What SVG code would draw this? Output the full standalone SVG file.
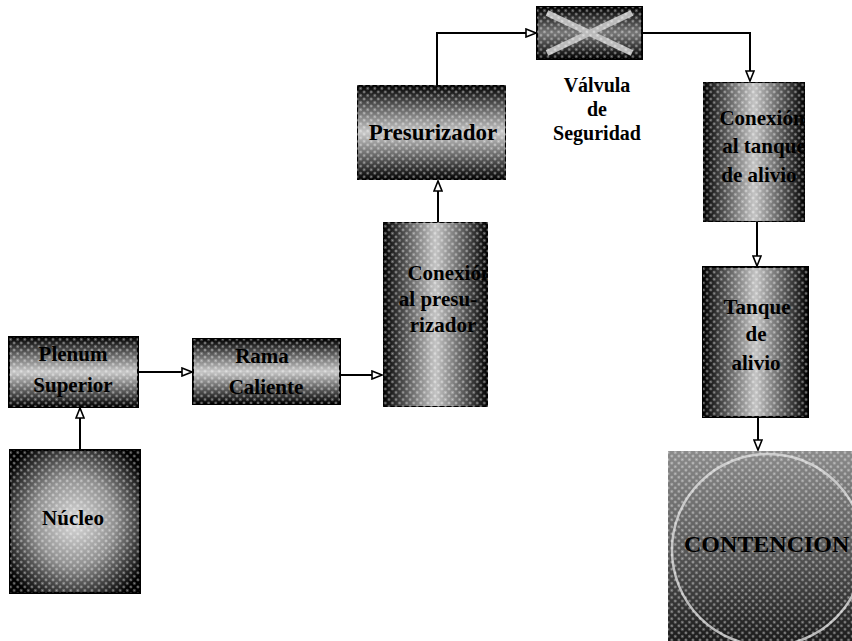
<svg xmlns="http://www.w3.org/2000/svg" width="852" height="641" viewBox="0 0 852 641">
<style>
.box{stroke:#000;stroke-width:2}
.dots{fill:url(#dots)}
.t{font-family:"Liberation Serif","Times New Roman",serif;font-weight:bold;fill:#000;text-anchor:middle}
.st{text-anchor:start}
.lbl{font-size:21px}
.conn{fill:none;stroke:#000;stroke-width:2}
</style>
<defs>
<linearGradient id="hband" x1="0" y1="0" x2="0" y2="1">
<stop offset="0" stop-color="#000"/><stop offset="0.5" stop-color="#c8c8c8"/><stop offset="1" stop-color="#000"/>
</linearGradient>
<linearGradient id="vband" x1="0" y1="0" x2="1" y2="0">
<stop offset="0" stop-color="#000"/><stop offset="0.5" stop-color="#c4c4c4"/><stop offset="1" stop-color="#000"/>
</linearGradient>
<radialGradient id="rad" cx="0.5" cy="0.5" r="0.62">
<stop offset="0" stop-color="#dadada"/><stop offset="0.5" stop-color="#909090"/><stop offset="1" stop-color="#000"/>
</radialGradient>
<linearGradient id="cont" x1="0" y1="0" x2="0" y2="1">
<stop offset="0" stop-color="#8a8a8a"/><stop offset="0.5" stop-color="#5a5a5a"/><stop offset="1" stop-color="#1a1a1a"/>
</linearGradient>
<linearGradient id="valv" x1="0" y1="0" x2="0" y2="1">
<stop offset="0" stop-color="#000"/><stop offset="0.5" stop-color="#777"/><stop offset="1" stop-color="#000"/>
</linearGradient>
<pattern id="dots" width="5" height="5" patternUnits="userSpaceOnUse" patternTransform="rotate(45)">
<circle cx="2.5" cy="2.5" r="1.2" fill="#fff" fill-opacity="0.5"/>
</pattern>
<marker id="arr" viewBox="0 0 12 10" refX="11" refY="5" markerWidth="12" markerHeight="10" markerUnits="userSpaceOnUse" orient="auto">
<path d="M1,1 L11,5 L1,9 Z" fill="#fff" stroke="#000" stroke-width="1.6"/>
</marker>
<clipPath id="cConP"><rect x="383" y="222" width="105" height="185"/></clipPath>
<clipPath id="cPres"><rect x="357" y="85" width="149" height="95"/></clipPath>
<clipPath id="cConT"><rect x="703" y="82" width="102" height="140"/></clipPath>
<clipPath id="cCont"><rect x="668" y="451" width="184" height="190"/></clipPath>
</defs>

<g id="connectors">
<path class="conn" d="M80,450 L80,408" marker-end="url(#arr)"/>
<path class="conn" d="M138,372 L192,372" marker-end="url(#arr)"/>
<path class="conn" d="M340,375 L382,375" marker-end="url(#arr)"/>
<path class="conn" d="M438,222 L438,181" marker-end="url(#arr)"/>
<path class="conn" d="M437,85 L437,33 L536,33" marker-end="url(#arr)"/>
<path class="conn" d="M642,33 L750,33 L750,81" marker-end="url(#arr)"/>
<path class="conn" d="M757,222 L757,266" marker-end="url(#arr)"/>
<path class="conn" d="M758,417 L758,450" marker-end="url(#arr)"/>
</g>

<g id="plenum">
<rect class="box" x="9" y="337" width="129" height="70" fill="url(#hband)"/>
<rect x="9" y="337" width="129" height="70" class="dots"/>
<text class="t lbl" x="73" y="361">Plenum</text>
<text class="t lbl" x="73" y="392">Superior</text>
</g>

<g id="rama">
<rect class="box" x="193" y="339" width="147" height="65" fill="url(#hband)"/>
<rect x="193" y="339" width="147" height="65" class="dots"/>
<text class="t lbl" x="262" y="363">Rama</text>
<text class="t lbl" x="266" y="394">Caliente</text>
</g>

<g id="conexion-presurizador" clip-path="url(#cConP)">
<rect class="box" x="383" y="222" width="105" height="185" fill="url(#vband)"/>
<rect x="383" y="222" width="105" height="185" class="dots"/>
<text class="t lbl" x="450" y="280">Conexión</text>
<text class="t lbl" x="438" y="306">al presu-</text>
<text class="t lbl" x="443" y="332">rizador</text>
</g>

<g id="presurizador" clip-path="url(#cPres)">
<rect class="box" x="357" y="85" width="149" height="95" fill="url(#hband)"/>
<rect x="357" y="85" width="149" height="95" class="dots"/>
<text class="t" x="433" y="140" font-size="23">Presurizador</text>
</g>

<g id="valvula">
<rect class="box" x="537" y="7" width="105" height="52" fill="url(#valv)"/>
<path d="M547,13 L632,53 M547,53 L632,13" stroke="#bbb" stroke-width="6" fill="none"/>
<rect x="537" y="7" width="105" height="52" class="dots"/>
<text class="t" x="597" y="92" font-size="20">Válvula</text>
<text class="t" x="597" y="116" font-size="20">de</text>
<text class="t" x="597" y="140" font-size="20">Seguridad</text>
</g>

<g id="conexion-tanque" clip-path="url(#cConT)">
<rect class="box" x="703" y="82" width="102" height="140" fill="url(#vband)"/>
<rect x="703" y="82" width="102" height="140" class="dots"/>
<text class="t lbl" x="762" y="125">Conexión</text>
<text class="t lbl" x="764" y="153">al tanque</text>
<text class="t lbl" x="759" y="182">de alivio</text>
</g>

<g id="tanque">
<rect class="box" x="703" y="267" width="105" height="150" fill="url(#vband)"/>
<rect x="703" y="267" width="105" height="150" class="dots"/>
<text class="t lbl" x="757" y="314">Tanque</text>
<text class="t lbl" x="756" y="341">de</text>
<text class="t lbl" x="756" y="370">alivio</text>
</g>

<g id="contencion" clip-path="url(#cCont)">
<rect x="668" y="451" width="186" height="192" fill="url(#cont)"/>
<circle cx="768" cy="550" r="96" fill="none" stroke="#ddd" stroke-width="2.5" stroke-opacity="0.8"/>
<rect x="668" y="451" width="186" height="192" class="dots"/>
<text class="t st" x="684" y="552" font-size="24">CONTENCION</text>
</g>

<g id="nucleo">
<rect class="box" x="10" y="450" width="130" height="143" fill="url(#rad)"/>
<rect x="10" y="450" width="130" height="143" class="dots"/>
<text class="t" x="73" y="525" font-size="21">Núcleo</text>
</g>
</svg>
